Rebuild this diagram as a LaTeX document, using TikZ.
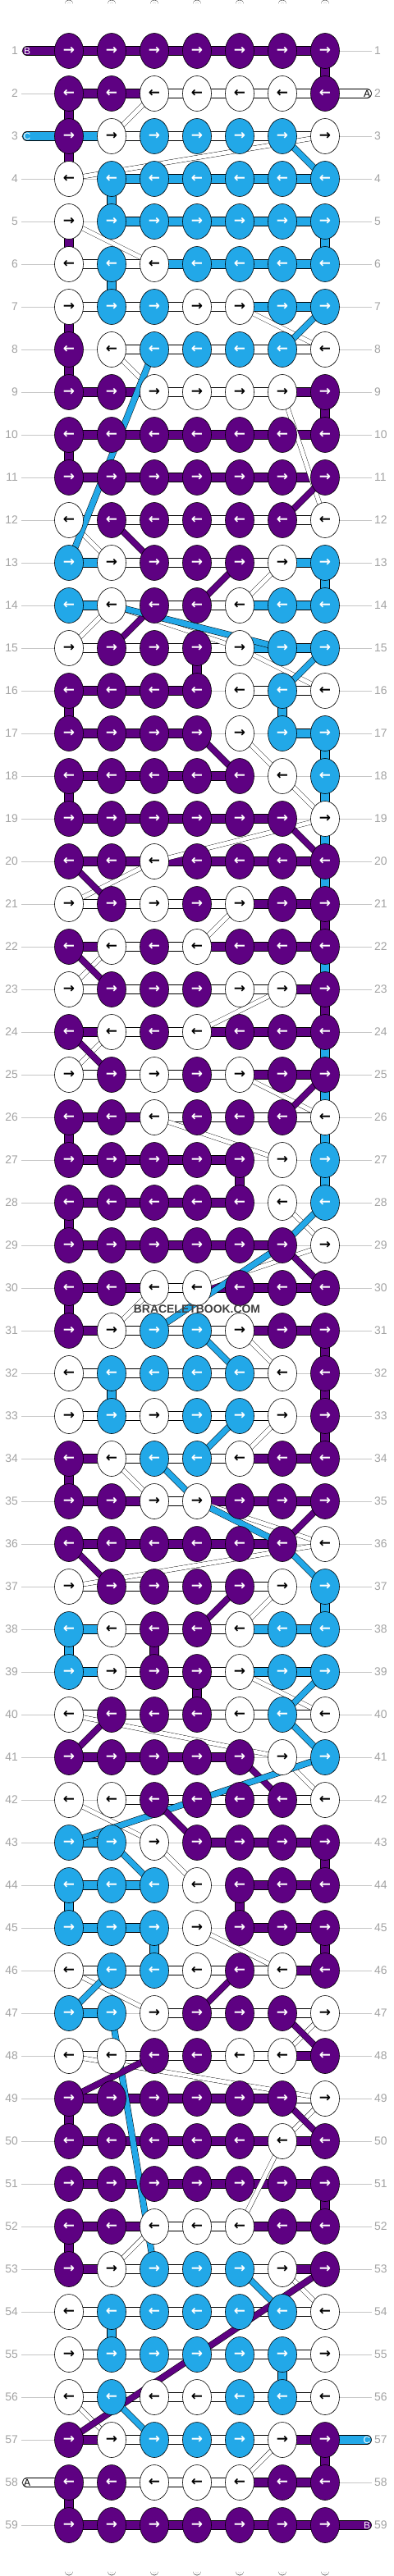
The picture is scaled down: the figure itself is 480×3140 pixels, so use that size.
\documentclass[tikz,border=0pt]{standalone}
\usepackage{fontspec}
\setmainfont{Liberation Sans}
\newfontfamily\arrowfont{DejaVu Sans}
\usetikzlibrary{shapes.geometric,backgrounds}

\definecolor{threadP}{HTML}{5E0182}
\definecolor{threadB}{HTML}{22A8E8}
\definecolor{labelgray}{HTML}{A3A3A3}
\definecolor{linegray}{HTML}{C6C6C6}

\tikzset{
  knotbase/.style={ellipse, draw=black, line width=0.6pt, inner sep=0pt,
    minimum width=35bp, minimum height=43bp,
    font=\arrowfont\bfseries\fontsize{17}{17}\selectfont},
  knotP/.style={knotbase, fill=threadP, text=white},
  knotB/.style={knotbase, fill=threadB, text=white},
  knotW/.style={knotbase, fill=white, text=black},
  barbase/.style={draw=black, line width=0.6pt, double distance=10.5bp},
  barP/.style={barbase, double=threadP},
  barB/.style={barbase, double=threadB},
  barW/.style={barbase, double=white},
  barN/.style={draw=none},
  diagP/.style={draw=black, line width=0.5pt, double=threadP, double distance=7bp},
  diagB/.style={draw=black, line width=0.5pt, double=threadB, double distance=7bp},
  diagW/.style={draw=black, line width=0.4pt, double=white, double distance=5bp},
  warp/.style={draw=black, line width=0.6pt, double=white, double distance=9.5bp, line cap=round},
  warpcore/.style={draw=gray!45, line width=0.6pt, double=white, double distance=3.5bp, line cap=round},
  endthread/.style={barbase, line cap=round},
  rownum/.style={text=labelgray, font=\fontsize{14}{14}\selectfont, inner sep=0pt},
  endletter/.style={font=\fontsize{12}{12}\selectfont, inner sep=0pt},
}

\begin{document}
\begin{tikzpicture}[x=1bp, y=-1bp]
  \useasboundingbox (0,0) rectangle (480,3140);

  % Row numbers (left and right)
  \foreach \r in {1,...,59}{
    \node[rownum, anchor=east] (numL-\r) at (22,{62+52*(\r-1)}) {\r};
    \node[rownum, anchor=west] (numR-\r) at (456,{62+52*(\r-1)}) {\r};
  }

  % Background, row lines and warp strings
  \begin{scope}[on background layer]
    \fill[white] (0,0) rectangle (480,3140);
    \foreach \r in {1,...,59}{
      \draw[linegray, line width=0.8pt] ([xshift=4]numL-\r.east) -- ([xshift=-3]numR-\r.west);
    }
    \foreach \c in {1,...,7}{
      \coordinate (wtop-\c) at ({84+52*(\c-1)},5);
      \coordinate (wbot-\c) at ({84+52*(\c-1)},3134);
      \draw[warp] (wtop-\c) -- (wbot-\c);
      \draw[warpcore] (wtop-\c) -- (wbot-\c);
    }
  \end{scope}

  % Knots and horizontal threads, row by row
  \foreach \r/\row in {
    1/{P,P,P,P,P,P,P,P,P,P,P,P,P},
    2/{P,P,P,P,W,W,W,W,W,W,W,W,P},
    3/{P,B,W,W,B,W,B,W,B,W,B,W,W},
    4/{W,N,B,B,B,B,B,B,B,B,B,B,B},
    5/{W,N,B,B,B,B,B,B,B,B,B,B,B},
    6/{W,W,B,W,W,B,B,B,B,B,B,B,B},
    7/{W,W,B,W,B,W,W,W,W,B,B,B,B},
    8/{P,N,W,W,B,W,B,W,B,W,B,W,W},
    9/{P,P,P,P,W,W,W,W,W,W,W,P,P},
    10/{P,P,P,P,P,P,P,P,P,P,P,P,P},
    11/{P,P,P,P,P,P,P,P,P,P,P,P,P},
    12/{W,W,P,W,P,W,P,W,P,W,P,W,W},
    13/{B,B,W,W,P,W,P,W,P,W,W,B,B},
    14/{B,B,W,W,P,W,P,W,W,B,B,B,B},
    15/{W,W,P,W,P,W,P,W,W,B,B,B,B},
    16/{P,P,P,P,P,P,P,N,W,W,B,W,W},
    17/{P,P,P,P,P,P,P,N,W,N,B,B,B},
    18/{P,P,P,P,P,P,P,P,P,N,W,N,B},
    19/{P,P,P,P,P,P,P,P,P,P,P,N,W},
    20/{P,P,P,P,W,P,P,P,P,P,P,P,P},
    21/{W,W,P,W,W,W,P,W,W,P,P,P,P},
    22/{P,P,W,W,P,W,W,P,P,P,P,P,P},
    23/{W,W,P,W,P,W,P,W,W,W,W,P,P},
    24/{P,P,W,W,P,W,W,P,P,P,P,P,P},
    25/{W,W,P,W,W,W,P,W,W,P,P,P,P},
    26/{P,P,P,P,W,W,P,W,P,W,P,W,W},
    27/{P,P,P,P,P,P,P,P,P,N,W,N,B},
    28/{P,P,P,P,P,P,P,P,P,N,W,N,B},
    29/{P,P,P,P,P,P,P,P,P,P,P,N,W},
    30/{P,P,P,P,W,W,W,P,P,P,P,P,P},
    31/{P,P,W,W,B,W,B,W,W,P,P,P,P},
    32/{W,W,B,W,B,W,B,W,B,W,W,N,P},
    33/{W,W,B,W,W,W,B,W,B,W,W,N,P},
    34/{P,P,W,W,B,W,B,W,W,P,P,P,P},
    35/{P,P,P,P,W,W,W,P,P,P,P,P,P},
    36/{P,P,P,P,P,P,P,P,P,P,P,N,W},
    37/{W,W,P,W,P,W,P,W,P,W,W,N,B},
    38/{B,B,W,W,P,W,P,W,W,B,B,B,B},
    39/{B,B,W,W,P,W,P,W,W,B,B,B,B},
    40/{W,W,P,W,P,W,P,W,W,W,B,W,W},
    41/{P,P,P,P,P,P,P,P,P,N,W,N,B},
    42/{W,N,W,W,P,W,P,W,P,W,P,W,W},
    43/{B,B,B,N,W,N,P,P,P,P,P,P,P},
    44/{B,B,B,B,B,N,W,N,P,P,P,P,P},
    45/{B,B,B,B,B,N,W,N,P,P,P,P,P},
    46/{W,W,B,W,B,W,W,W,P,W,W,P,P},
    47/{B,B,B,N,W,W,P,W,P,W,P,W,W},
    48/{W,W,W,W,P,W,P,W,W,W,W,P,P},
    49/{P,P,P,P,P,P,P,P,P,P,P,W,W},
    50/{P,P,P,P,P,P,P,P,P,P,W,P,P},
    51/{P,P,P,P,P,P,P,P,P,P,P,P,P},
    52/{P,P,P,P,W,W,W,W,W,P,P,P,P},
    53/{P,P,W,W,B,W,B,W,B,W,W,P,P},
    54/{W,W,B,W,B,W,B,W,B,W,B,W,W},
    55/{W,W,B,W,B,W,B,W,B,W,B,W,W},
    56/{W,W,B,W,W,W,W,W,B,W,B,W,W},
    57/{P,P,W,W,B,W,B,W,B,W,W,P,P},
    58/{P,W,P,W,W,W,W,W,W,P,P,P,P},
    59/{P,P,P,P,P,P,P,P,P,P,P,P,P}}{
    \foreach \v [count=\i] in \row {
      \ifodd\i
        \pgfmathtruncatemacro\c{(\i+1)/2}
        \node[knot\v] (k-\r-\c) at ({84+52*(\c-1)},{62+52*(\r-1)}) {\ifodd\r →\else ←\fi};
      \fi
    }
    \begin{scope}[on background layer]
      \foreach \v [count=\i] in \row {
        \ifodd\i\else
          \pgfmathtruncatemacro\a{\i/2}
          \pgfmathtruncatemacro\b{\i/2+1}
          \draw[bar\v] (k-\r-\a.center) -- (k-\r-\b.center);
        \fi
      }
    \end{scope}
  }

  \begin{scope}[on background layer]
    % Threads that go straight down
    \foreach \r/\c/\v in {1/7/P, 2/1/P, 3/1/P, 4/2/B, 5/1/P, 5/7/B, 6/2/B, 7/1/P,
      8/1/P, 9/7/P, 10/1/P, 13/7/B, 15/4/P, 16/1/P, 16/6/B, 17/7/B, 18/1/P,
      18/7/B, 19/7/B, 20/7/B, 21/7/P, 22/7/B, 23/7/P, 24/7/B, 25/7/B, 26/1/P,
      26/7/B, 27/5/P, 27/7/B, 28/1/P, 30/1/P, 31/7/P, 32/2/B, 32/7/P, 33/7/P,
      34/1/P, 37/7/B, 38/1/B, 38/3/P, 39/4/P, 43/7/P, 44/1/B, 44/5/P, 45/3/B,
      45/7/P, 49/1/P, 51/7/P, 52/1/P, 54/2/B, 55/6/B, 57/7/P, 58/1/P}{
      \pgfmathtruncatemacro\rr{\r+1}
      \draw[bar\v] (k-\r-\c.center) -- (k-\rr-\c.center);
    }

    % Threads that cross over (white first)
    \foreach \ra/\ca/\rb/\cb in {2/3/3/2, 3/7/4/1, 5/1/6/3, 7/5/8/7, 8/2/9/3,
      9/6/12/7, 12/1/13/2, 13/6/14/5, 14/2/15/1, 14/2/15/5, 15/5/16/7,
      17/5/18/6, 18/6/19/7, 19/7/20/3, 20/3/21/1, 21/5/22/4, 22/2/23/1,
      23/6/24/4, 24/2/25/1, 25/5/26/7, 26/3/27/6, 28/6/29/7, 29/7/30/4,
      30/3/31/2, 31/5/32/6, 33/6/34/5, 34/2/35/3, 35/4/36/7, 36/7/37/1,
      37/6/38/5, 39/5/40/7, 40/1/41/6, 41/6/42/7, 42/1/43/3, 43/3/44/4,
      45/4/46/6, 46/1/47/3, 47/7/48/6, 48/1/49/7, 49/7/50/6, 50/6/52/5,
      52/3/53/2, 53/6/54/7, 56/1/57/2, 57/6/58/5}{
      \draw[diagW] (k-\ra-\ca.center) -- (k-\rb-\cb.center);
    }
    \foreach \ra/\ca/\rb/\cb/\v in {3/6/4/7/B, 7/7/8/6/B, 8/3/13/1/B,
      11/7/12/6/P, 12/2/13/3/P, 13/5/14/4/P, 14/3/15/2/P, 14/2/15/6/B,
      15/7/16/6/B, 17/4/18/5/P, 19/6/20/7/P, 20/1/21/2/P, 22/1/23/2/P,
      24/1/25/2/P, 25/7/26/6/P, 28/7/29/6/B, 29/6/31/3/B, 29/6/30/7/P,
      31/4/32/5/B, 33/5/34/4/B, 34/3/35/4/B, 35/4/36/6/B, 36/6/37/7/B,
      35/7/36/6/P, 36/1/37/2/P, 37/5/38/4/P, 39/7/40/6/B, 40/2/41/1/P,
      40/6/41/7/B, 41/5/42/6/P, 41/7/43/1/B, 42/3/43/4/P, 43/2/44/3/B,
      46/5/47/4/P, 46/2/47/1/B, 47/2/53/3/B, 47/6/48/7/P, 48/3/49/1/P,
      49/6/50/7/P, 53/5/54/6/B, 53/7/57/1/P, 56/2/57/3/B}{
      \draw[diag\v] (k-\ra-\ca.center) -- (k-\rb-\cb.center);
    }

    % Loose thread ends
    \coordinate (endB-top) at (33,62);
    \coordinate (endA-top) at (447,114);
    \coordinate (endC-top) at (33,166);
    \coordinate (endC-bot) at (447,2974);
    \coordinate (endA-bot) at (33,3026);
    \coordinate (endB-bot) at (447,3078);
    \draw[endthread, double=threadP] (endB-top) -- (k-1-1.center);
    \draw[endthread, double=white] (endA-top) -- (k-2-7.center);
    \draw[endthread, double=threadB] (endC-top) -- (k-3-1.center);
    \draw[endthread, double=threadB] (endC-bot) -- (k-57-7.center);
    \draw[endthread, double=white] (endA-bot) -- (k-58-1.center);
    \draw[endthread, double=threadP] (endB-bot) -- (k-59-7.center);
  \end{scope}

  % Thread letters
  \node[endletter, text=white] (lbB-top) at (endB-top) {B};
  \node[endletter, text=black] (lbA-top) at (endA-top) {A};
  \node[endletter, text=white] (lbC-top) at (endC-top) {C};
  \node[endletter, text=white] (lbC-bot) at (endC-bot) {C};
  \node[endletter, text=black] (lbA-bot) at (endA-bot) {A};
  \node[endletter, text=white] (lbB-bot) at (endB-bot) {B};

  % Watermark
  \node[font=\bfseries\fontsize{14}{14}\selectfont, text=black!75] (mark) at (240,1596) {BRACELETBOOK.COM};
\end{tikzpicture}
\end{document}
